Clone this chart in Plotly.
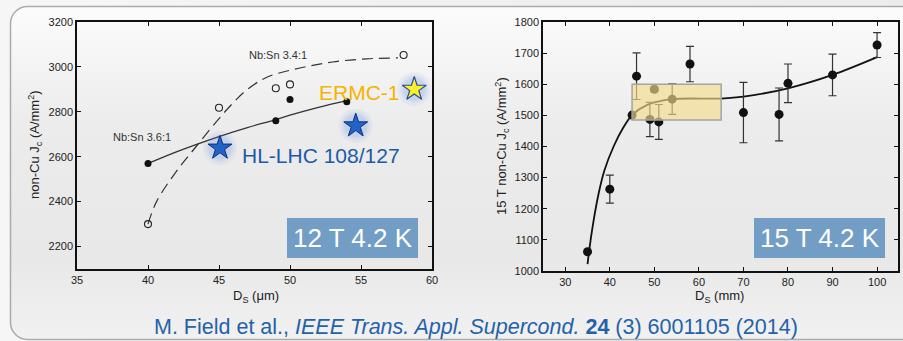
import base64
import plotly.graph_objects as go

W, H = 903, 341
FONT = "Liberation Sans, Arial, sans-serif"

# ---------------- Left panel data (12 T, 4.2 K) ----------------
ds36 = [40, 49, 50, 54]
jc36 = [2570, 2760, 2855, 2845]
ds34 = [40, 45, 49, 50, 58]
jc34 = [2300, 2818, 2905, 2922, 3053]
fit36_x = [40, 42, 45, 47, 49, 50, 52, 54]
fit36_y = [2570, 2622, 2690, 2730, 2765, 2785, 2820, 2850]
fit34_x = [40, 40.6, 42, 43.45, 45, 46, 47, 48.4, 50.7, 53, 55.4, 57.6]
fit34_y = [2300, 2400, 2535, 2650, 2770, 2840, 2900, 2955, 2995, 3022, 3036, 3040]
hl_x = [45.07, 54.63]
hl_y = [2639, 2738]
ermc_x = [58.75]
ermc_y = [2901]

# ---------------- Right panel data (15 T, 4.2 K) ----------------
ds15 = [35, 40, 45, 46, 49, 50, 51, 54, 58, 70, 78, 80, 90, 100]
jc15 = [1062, 1263, 1501, 1626, 1487, 1584, 1479, 1552, 1665, 1509, 1503, 1603, 1630, 1726]
err15 = [0, 45, 0, 75, 55, 8, 56, 49, 57, 97, 85, 62, 67, 40]
fit15_x = [35, 36, 37.5, 38.8, 40.85, 43, 45, 48.3, 54, 65, 70, 80, 90, 100]
fit15_y = [1022, 1130, 1250, 1324, 1400, 1460, 1501, 1533, 1552, 1554, 1560, 1587, 1630, 1687]

# ---------------- layout geometry (pixels) ----------------
L_X0, L_X1, L_Y0, L_Y1 = 77, 432, 22, 269
R_X0, R_X1, R_Y0, R_Y1 = 543, 898, 22, 271


def px(x):
    return x / W


def py(y):
    return 1 - y / H


svg = f"""<svg xmlns='http://www.w3.org/2000/svg' width='{W}' height='{H}'>
<defs><linearGradient id='g' x1='0' y1='0' x2='0' y2='1'>
<stop offset='0' stop-color='#fcfcfc'/><stop offset='0.35' stop-color='#ececec'/>
<stop offset='0.75' stop-color='#e8e8e8'/><stop offset='1' stop-color='#f1f1f1'/></linearGradient>
<linearGradient id='o' x1='0' y1='0' x2='1' y2='0'>
<stop offset='0' stop-color='#f6f6f6'/><stop offset='1' stop-color='#ececec'/></linearGradient></defs>
<rect width='{W}' height='{H}' fill='url(#o)'/>
<rect x='10.5' y='6.5' width='915' height='333' rx='17' ry='17' fill='url(#g)' stroke='#ababab' stroke-width='1.5'/>
</svg>"""
bg_uri = "data:image/svg+xml;base64," + base64.b64encode(svg.encode()).decode()

fig = go.Figure()

# left: fit lines
fig.add_trace(go.Scatter(x=fit34_x, y=fit34_y, mode="lines", line=dict(color="#333", width=1.2, dash="11px,6px", shape="spline"),
                         xaxis="x", yaxis="y", showlegend=False, hoverinfo="skip"))
fig.add_trace(go.Scatter(x=fit36_x, y=fit36_y, mode="lines", line=dict(color="#333", width=1.3, shape="spline"),
                         xaxis="x", yaxis="y", showlegend=False, hoverinfo="skip"))
fig.add_trace(go.Scatter(x=ds34, y=jc34, mode="markers",
                         marker=dict(symbol="circle-open", size=7, color="#222", line=dict(width=1.1, color="#222")),
                         xaxis="x", yaxis="y", showlegend=False))
fig.add_trace(go.Scatter(x=ds36, y=jc36, mode="markers", marker=dict(symbol="circle", size=7, color="#111"),
                         xaxis="x", yaxis="y", showlegend=False))
# glows
for sz, a in [(34, 0.07), (28, 0.09), (23, 0.12)]:
    fig.add_trace(go.Scatter(x=hl_x + ermc_x, y=hl_y + ermc_y, mode="markers",
                             marker=dict(symbol="circle", size=sz, color=f"rgba(90,130,230,{a})", line=dict(width=0)),
                             xaxis="x", yaxis="y", showlegend=False, hoverinfo="skip"))
fig.add_trace(go.Scatter(x=hl_x, y=hl_y, mode="markers",
                         marker=dict(symbol="star", size=18, color="#2463c6", line=dict(width=1, color="#0d2f80")),
                         xaxis="x", yaxis="y", showlegend=False))
fig.add_trace(go.Scatter(x=ermc_x, y=ermc_y, mode="markers",
                         marker=dict(symbol="star", size=18, color="#f7f02a", line=dict(width=1.2, color="#2a4a95")),
                         xaxis="x", yaxis="y", showlegend=False))

# right
fig.add_trace(go.Scatter(x=fit15_x, y=fit15_y, mode="lines", line=dict(color="#111", width=1.8, shape="spline"),
                         xaxis="x2", yaxis="y2", showlegend=False, hoverinfo="skip"))
fig.add_trace(go.Scatter(x=ds15, y=jc15, mode="markers",
                         marker=dict(symbol="circle", size=9, color="#111"),
                         error_y=dict(type="data", array=err15, color="#333", thickness=1.2, width=4),
                         xaxis="x2", yaxis="y2", showlegend=False))

axis_common = dict(showline=True, linecolor="#111", linewidth=1.5, mirror="ticks", ticks="inside",
                   ticklen=4, tickwidth=1, tickcolor="#111", showgrid=False, zeroline=False,
                   tickfont=dict(family=FONT, size=11, color="#222"), automargin=False)

fig.update_layout(
    width=W, height=H, margin=dict(l=0, r=0, t=0, b=0),
    paper_bgcolor="rgba(0,0,0,0)", plot_bgcolor="rgba(0,0,0,0)",
    xaxis=dict(domain=[px(L_X0), px(L_X1)], range=[35, 60], tickvals=[35, 40, 45, 50, 55, 60], anchor="y", **axis_common),
    yaxis=dict(domain=[py(L_Y1), py(L_Y0)], range=[2100, 3200], tickvals=[2200, 2400, 2600, 2800, 3000, 3200], anchor="x", **axis_common),
    xaxis2=dict(domain=[px(R_X0), px(R_X1)], range=[25, 104.7], tickvals=[30, 40, 50, 60, 70, 80, 90, 100], anchor="y2", **axis_common),
    yaxis2=dict(domain=[py(R_Y1), py(R_Y0)], range=[1000, 1800], tickvals=list(range(1000, 1801, 100)), anchor="x2", **axis_common),
    images=[dict(source=bg_uri, xref="paper", yref="paper", x=0, y=1, sizex=1, sizey=1,
                 sizing="stretch", layer="below", xanchor="left", yanchor="top")],
    showlegend=False,
)

shapes = [
    dict(type="rect", xref="x2", yref="y2", x0=45, x1=65, y0=1485, y1=1600, layer="above",
         fillcolor="rgba(245,220,140,0.65)", line=dict(color="#a3a3a3", width=1.5)),
    dict(type="rect", xref="paper", yref="paper", x0=px(287), x1=px(418), y0=py(258), y1=py(218),
         fillcolor="#729ec6", line=dict(width=0), layer="above"),
    dict(type="rect", xref="paper", yref="paper", x0=px(754), x1=px(885), y0=py(258), y1=py(218),
         fillcolor="#729ec6", line=dict(width=0), layer="above"),
]
fig.update_layout(shapes=shapes)

ann = []
ann.append(dict(text="Nb:Sn 3.4:1", x=49.15, y=3053, xref="x", yref="y", showarrow=False,
                font=dict(family=FONT, size=11, color="#333")))
ann.append(dict(text="Nb:Sn 3.6:1", x=39.6, y=2689, xref="x", yref="y", showarrow=False,
                font=dict(family=FONT, size=11, color="#333")))
ann.append(dict(text="HL-LHC 108/127", x=px(240), y=py(155), xref="paper", yref="paper", xanchor="left", yanchor="middle",
                showarrow=False, font=dict(family=FONT, size=21, color="#1d5aa6")))
ann.append(dict(text="ERMC-1", x=px(402), y=py(92), xref="paper", yref="paper", xanchor="right", yanchor="middle",
                showarrow=False, font=dict(family=FONT, size=21, color="#f4b400")))
ann.append(dict(text="12 T 4.2 K", x=px(352.5), y=py(238), xref="paper", yref="paper", xanchor="center", yanchor="middle",
                showarrow=False, font=dict(family=FONT, size=26, color="white")))
ann.append(dict(text="15 T 4.2 K", x=px(819.5), y=py(238), xref="paper", yref="paper", xanchor="center", yanchor="middle",
                showarrow=False, font=dict(family=FONT, size=26, color="white")))
# axis titles
ann.append(dict(text="non-Cu J<sub>c</sub> (A/mm<sup>2</sup>)", x=px(35), y=py(145), xref="paper", yref="paper",
                textangle=-90, showarrow=False, xanchor="center", yanchor="middle",
                font=dict(family=FONT, size=13, color="#222")))
ann.append(dict(text="D<sub>S</sub> (\u03bcm)", x=px(256), y=py(296), xref="paper", yref="paper",
                showarrow=False, xanchor="center", yanchor="middle", font=dict(family=FONT, size=13, color="#222")))
ann.append(dict(text="15 T non-Cu J<sub>c</sub> (A/mm<sup>2</sup>)", x=px(502), y=py(146), xref="paper", yref="paper",
                textangle=-90, showarrow=False, xanchor="center", yanchor="middle",
                font=dict(family=FONT, size=13, color="#222")))
ann.append(dict(text="D<sub>S</sub> (mm)", x=px(719), y=py(296), xref="paper", yref="paper",
                showarrow=False, xanchor="center", yanchor="middle", font=dict(family=FONT, size=13, color="#222")))
# caption
ann.append(dict(text="M. Field et al., <i>IEEE Trans. Appl. Supercond.</i> <b>24</b> (3) 6001105 (2014)",
                x=px(476), y=py(327), xref="paper", yref="paper", showarrow=False, xanchor="center", yanchor="middle",
                font=dict(family=FONT, size=21.5, color="#2462a8")))
fig.update_layout(annotations=ann)

fig.write_html("out.html")
